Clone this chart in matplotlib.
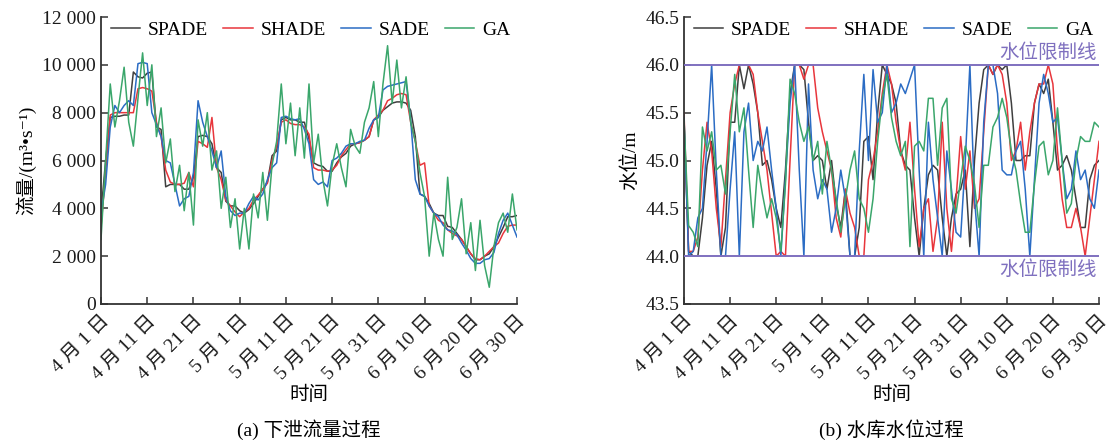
import numpy as np
import matplotlib
matplotlib.use("Agg")
import matplotlib.pyplot as plt
from matplotlib.ticker import FuncFormatter

plt.rcParams['font.family'] = ['Liberation Serif', 'Noto Sans CJK SC', 'DejaVu Sans']
plt.rcParams['font.size'] = 14
plt.rcParams['axes.unicode_minus'] = False

# ---------------------------------- data ----------------------------------
days = np.arange(91)  # 4月1日 .. 6月30日
tick_days = [0, 10, 20, 30, 40, 50, 60, 70, 80, 90]
tick_labels = ['4 月 1 日', '4 月 11 日', '4 月 21 日', '5 月 1 日', '5 月 11 日',
               '5 月 21 日', '5 月 31 日', '6 月 10 日', '6 月 20 日', '6 月 30 日']
names = ['SPADE', 'SHADE', 'SADE', 'GA']
colors = ['#3f3f3f', '#e8363c', '#2b6cc4', '#3aa66b']

# discharge, 1000 m3/s
flow_spade = [3.8, 6.0, 7.8, 7.85, 7.85, 7.9, 7.9, 9.7, 9.5, 9.45,
              9.65, 9.7, 7.4, 7.3, 4.9, 5.0, 5.0, 5.0, 4.8, 4.8,
              5.3, 7.0, 7.05, 7.0, 6.7, 5.7, 5.5, 4.3, 4.1, 4.1,
              3.9, 3.8, 3.95, 4.2, 4.5, 4.8, 5.1, 6.2, 6.4, 7.7,
              7.8, 7.7, 7.7, 7.6, 7.6, 6.9, 5.9, 5.8, 5.75, 5.55,
              5.55, 5.9, 6.15, 6.3, 6.6, 6.7, 6.75, 6.85, 7.0, 7.7,
              7.8, 8.1, 8.25, 8.4, 8.45, 8.45, 8.4, 8.1, 7.0, 4.6,
              4.5, 4.2, 3.8, 3.7, 3.7, 3.25, 3.2, 2.95, 2.7, 2.4,
              2.1, 1.85, 1.85, 2.0, 2.1, 2.4, 2.8, 3.2, 3.65, 3.65,
              3.7]
flow_shade = [3.2, 5.5, 7.9, 8.0, 8.0, 8.0, 8.0, 8.0, 9.0, 9.05,
              9.0, 8.9, 7.6, 7.0, 5.6, 5.1, 5.0, 5.0, 5.05, 5.5,
              4.9, 6.8, 6.7, 6.55, 7.8, 5.7, 5.2, 4.35, 4.1, 3.85,
              3.65, 3.85, 4.0, 4.35, 4.55, 4.8, 5.05, 6.0, 6.6, 7.6,
              7.7, 7.55, 7.5, 7.5, 7.4, 7.1, 5.7, 5.6, 5.6, 5.55,
              5.6, 5.8, 6.2, 6.45, 6.7, 6.7, 6.75, 6.85, 7.0, 7.7,
              7.9, 8.1, 8.5, 8.6, 8.75, 8.8, 8.75, 7.6, 6.8, 5.8,
              5.9, 4.1, 3.8, 3.5, 3.4, 3.1, 2.95, 2.85, 2.7, 2.4,
              2.1, 1.9, 1.85, 2.0, 2.2, 2.4, 2.55, 2.95, 3.25, 3.3,
              3.3]
flow_sade = [3.8, 5.0, 7.4, 8.3, 8.0, 8.3, 8.5, 8.3, 10.05, 10.1,
             10.05, 8.0, 7.5, 7.0, 6.0, 5.9, 5.0, 4.1, 4.4, 4.5,
             5.5, 8.5, 7.6, 7.0, 6.4, 5.7, 6.4, 4.5, 3.9, 3.7,
             3.8, 3.8, 4.2, 4.5, 4.35, 4.6, 5.2, 5.7, 5.9, 7.8,
             7.85, 7.75, 7.7, 7.75, 7.3, 6.7, 5.2, 5.0, 5.1, 4.9,
             6.0, 6.1, 6.3, 6.6, 6.7, 6.7, 6.8, 6.85, 7.35, 7.7,
             7.8, 8.95, 9.1, 9.15, 9.2, 9.25, 9.3, 7.7, 5.2, 4.6,
             4.5, 4.1, 3.8, 3.65, 3.3, 3.1, 3.05, 2.9, 2.55, 2.25,
             1.9, 1.7, 1.7, 1.85, 1.9, 2.15, 2.95, 3.5, 3.8, 3.3,
             2.8]
flow_ga = [2.7, 6.0, 9.2, 7.4, 8.5, 9.9, 7.6, 6.6, 8.6, 10.5,
           8.3, 10.0, 7.0, 8.2, 5.9, 6.9, 4.7, 5.8, 3.9, 5.5,
           3.3, 7.7, 6.6, 8.0, 5.6, 6.4, 4.0, 5.3, 3.2, 4.4,
           2.3, 4.0, 2.3, 4.6, 3.6, 5.5, 3.5, 5.8, 6.8, 9.2,
           6.7, 8.4, 6.2, 8.2, 6.1, 9.2, 5.9, 7.1, 5.2, 4.1,
           5.8, 6.7, 5.7, 4.9, 7.3, 6.6, 6.3, 7.6, 8.2, 9.3,
           7.0, 9.2, 10.8, 8.4, 10.2, 8.2, 9.5, 7.6, 6.8, 5.5,
           4.5, 2.0, 3.8, 2.7, 2.0, 5.3, 2.7, 3.2, 4.4, 2.1,
           3.4, 1.4, 3.5, 1.6, 0.7, 2.4, 3.4, 3.8, 3.0, 4.6,
           3.1]

# reservoir water level, m
lvl_spade = [45.4, 44.05, 44.0, 44.0, 44.4, 44.95, 45.2, 44.7, 44.0, 44.3,
             45.4, 45.4, 46.0, 45.75, 46.0, 45.8, 45.5, 44.95, 45.0, 44.8,
             44.5, 44.3, 44.9, 45.7, 46.0, 46.0, 45.95, 45.4, 45.0, 45.05,
             45.0, 44.7, 45.0, 44.55, 44.3, 44.7, 44.0, 44.0, 44.3, 45.2,
             45.25, 44.8, 45.5, 46.0, 45.9, 45.8, 45.6, 45.1, 44.95, 44.9,
             44.4, 44.0, 44.5, 44.85, 44.95, 44.9, 44.4, 44.0, 44.4, 44.65,
             44.7, 44.9, 44.1, 45.0, 45.6, 45.95, 46.0, 45.9, 46.0, 45.95,
             46.0, 45.6, 45.0, 45.0, 45.05, 45.05, 45.6, 45.8, 45.7, 45.85,
             45.4, 44.9, 44.95, 45.05, 44.9, 44.6, 44.3, 44.3, 44.8, 44.95,
             45.0]
lvl_shade = [45.5, 44.05, 44.05, 44.2, 44.9, 45.4, 45.1, 44.5, 44.1, 44.8,
             45.5, 45.8, 46.0, 46.0, 46.0, 45.9, 45.5, 45.2, 44.9, 44.45,
             44.0, 44.05, 44.0, 45.0, 46.0, 46.0, 45.85, 46.0, 46.0, 45.55,
             45.3, 45.1, 44.9, 44.4, 44.2, 44.7, 44.45, 44.3, 44.0, 44.0,
             44.8, 45.0, 45.3, 45.7, 46.0, 45.8, 45.4, 45.1, 44.9, 45.4,
             44.7, 44.1, 44.5, 44.6, 44.05, 44.4, 45.4, 44.5, 44.05, 44.6,
             45.25, 44.7, 45.1, 44.5, 44.6, 45.3, 46.0, 45.9, 46.0, 45.9,
             45.6, 45.0, 45.1, 45.4, 44.9, 45.3, 45.6, 45.8, 45.8, 46.0,
             45.8, 45.1, 44.6, 44.3, 44.3, 44.5, 44.3, 44.0, 44.4, 44.8,
             45.2]
lvl_sade = [45.45, 44.0, 44.05, 44.4, 44.5, 45.2, 46.0, 44.9, 44.0, 44.0,
            44.7, 45.3, 44.0, 45.3, 45.6, 45.0, 45.2, 45.1, 45.35, 44.9,
            44.5, 44.0, 44.8, 45.6, 46.0, 44.9, 44.0, 45.8, 44.9, 44.6,
            44.8, 44.7, 44.25, 44.5, 44.9, 44.6, 44.0, 44.0, 45.1, 45.9,
            45.0, 45.95, 45.4, 45.5, 46.0, 45.5, 45.6, 45.8, 45.7, 45.85,
            46.0, 44.9, 44.0, 45.4, 44.8, 44.4, 44.0, 45.1, 44.7, 44.25,
            44.2, 45.0, 46.0, 44.6, 44.0, 45.4, 46.0, 46.0, 45.7, 44.9,
            44.85, 44.85, 45.1, 45.2, 44.7, 44.0, 44.8, 45.6, 45.9, 45.7,
            45.4, 45.45, 45.0, 44.6, 44.7, 45.1, 44.8, 44.9, 44.6, 44.5,
            44.9]
lvl_ga = [45.43, 44.32, 44.25, 44.1, 45.35, 45.1, 45.3, 44.9, 44.95, 44.65,
          45.3, 45.9, 45.3, 45.55, 44.9, 44.3, 44.95, 44.65, 44.4, 44.6,
          44.4, 44.05, 44.75, 45.85, 45.7, 45.4, 45.2, 45.35, 45.0, 45.2,
          44.65, 45.2, 44.9, 44.6, 44.25, 44.6, 44.9, 45.1, 44.6, 44.5,
          44.25, 44.6, 45.2, 45.65, 45.9, 45.45, 45.2, 45.05, 45.2, 44.1,
          45.15, 45.2, 45.1, 45.65, 45.65, 44.95, 45.55, 45.65, 44.6, 44.45,
          44.8, 45.15, 45.0, 44.75, 44.3, 44.95, 44.95, 45.35, 45.45, 45.65,
          45.45, 45.1, 44.9, 44.55, 44.25, 44.25, 44.75, 45.15, 45.2, 44.85,
          45.0, 45.55, 45.0, 44.45, 44.55, 45.0, 45.25, 45.2, 45.2, 45.4,
          45.35]

level_limits = [44.0, 46.0]
limit_color = '#7f70bf'

flows = [np.array(s) * 1000 for s in (flow_spade, flow_shade, flow_sade, flow_ga)]
levels = [lvl_spade, lvl_shade, lvl_sade, lvl_ga]

# ---------------------------------- figure ----------------------------------
fig = plt.figure(figsize=(11.18, 4.43), dpi=100)
ax1 = fig.add_axes([101 / 1118, 1 - 304 / 443, 416 / 1118, 287 / 443])
ax2 = fig.add_axes([684 / 1118, 1 - 304 / 443, 415 / 1118, 287 / 443])


def style_axis(ax):
    for side in ('top', 'right'):
        ax.spines[side].set_visible(False)
    for side in ('left', 'bottom'):
        ax.spines[side].set_linewidth(1.3)
        ax.spines[side].set_color('#333333')
    ax.tick_params(direction='in', length=5, width=1.1, colors='#333333',
                   labelcolor='#1a1a1a', labelsize=14)
    ax.set_xlim(0, 90)
    ax.set_xticks(tick_days)
    ax.set_xticklabels(tick_labels, rotation=45, ha='right', va='top',
                       rotation_mode='anchor')
    ax.tick_params(axis='x', pad=6)
    ax.set_xlabel('时间', fontsize=14, labelpad=2)


for y, name, c in zip(flows, names, colors):
    ax1.plot(days, y, color=c, lw=1.1, label=name)
style_axis(ax1)
ax1.set_ylim(0, 12000)
ax1.set_yticks(range(0, 12001, 2000))
ax1.yaxis.set_major_formatter(FuncFormatter(lambda v, p: f'{int(v):,}'.replace(',', ' ')))
ax1.set_ylabel('流量/(m³•s⁻¹)', fontsize=14, labelpad=4)

for y, name, c in zip(levels, names, colors):
    ax2.plot(days, y, color=c, lw=1.1, label=name)
style_axis(ax2)
ax2.set_ylim(43.5, 46.5)
ax2.set_yticks(np.arange(43.5, 46.51, 0.5))
ax2.yaxis.set_major_formatter(FuncFormatter(lambda v, p: f'{v:.1f}'))
ax2.set_ylabel('水位/m', fontsize=14, labelpad=4)
for lim in level_limits:
    ax2.axhline(lim, color=limit_color, lw=1.4, zorder=5)
ax2.text(89.6, 46.03, '水位限制线', color=limit_color, ha='right', va='bottom', fontsize=14)
ax2.text(89.6, 43.96, '水位限制线', color=limit_color, ha='right', va='top', fontsize=14)

for ax in (ax1, ax2):
    ax.legend(loc='upper left', ncol=4, frameon=False, fontsize=14,
              handlelength=1.5, handletextpad=0.4, columnspacing=0.8,
              borderaxespad=0.1, bbox_to_anchor=(0.0, 1.02))

fig.text((101 + 517) / 2 / 1118, 1 - 430 / 443, '(a) 下泄流量过程', ha='center', va='center', fontsize=14)
fig.text((684 + 1099) / 2 / 1118, 1 - 430 / 443, '(b) 水库水位过程', ha='center', va='center', fontsize=14)

fig.savefig('out.png', dpi=100)
